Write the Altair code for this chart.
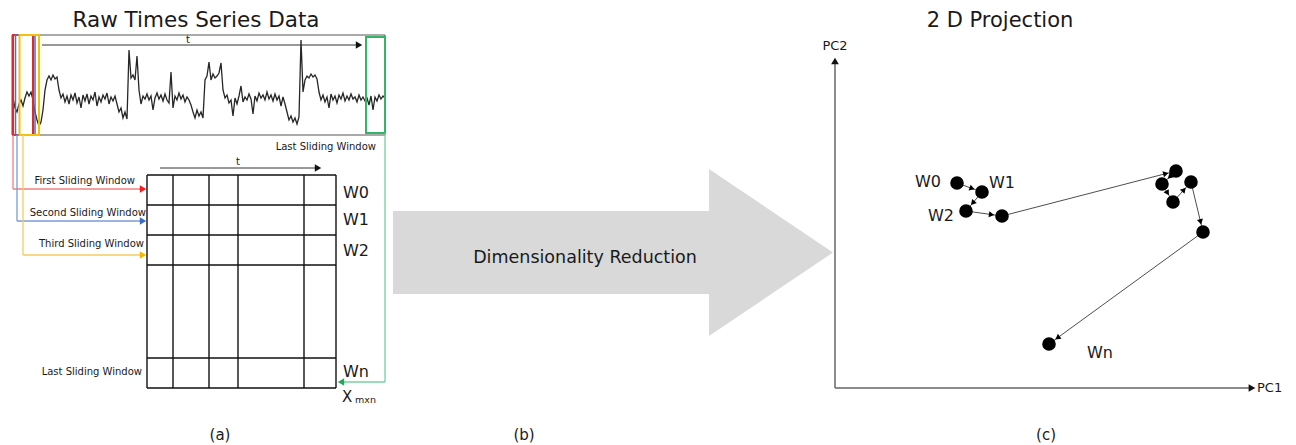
import math
import altair as alt
import pandas as pd

# ---------------- data ----------------
# raw time series (signal amplitude, 0 = bottom of panel, 100 = top), 187 samples
signal = [
    37, 27, 23, 31, 35, 29, 37, 43, 39, 43, 35, 23, 15, 9, 13, 25, 45, 55,
    59, 55, 60, 56, 58, 45, 37,
    41, 33, 39, 31, 40, 35, 42, 32, 38, 27, 40, 34, 41, 31, 39, 35, 43, 29, 38, 33, 40, 36, 42, 31, 38, 34, 39,
    31, 23, 27, 17, 23, 16, 85, 57, 60, 55, 79, 45,
    31, 39, 36, 41, 35, 39, 25, 37, 42, 36, 40, 34, 41, 35, 32, 63, 27, 39, 35, 42, 36, 40, 33, 38, 35, 30, 23, 17, 25, 19, 23, 17,
    55, 59, 73, 55, 61, 57, 59, 62, 72, 45, 37,
    40, 32, 35, 19, 37, 31, 39, 49, 33, 38, 35, 41, 36, 21, 39, 34, 42, 37, 40, 35, 43, 36, 40, 34, 41, 35, 39, 29, 38, 31, 23, 15, 19, 13, 17, 11, 18,
    95, 43, 55, 59, 57, 61, 58, 60, 56, 43, 35, 40, 33, 38, 27, 41, 35, 39, 32, 40, 36, 42, 34, 39, 35, 41, 36, 38, 33, 40, 35, 38, 34, 37, 30, 39, 25, 38, 34, 40, 36, 39, 37,
]

# 2-D projection of the sliding windows (PC1, PC2)
pc_names = ["W0", "W1", "W2", "W3", "W4", "W5", "W6", "W7", "W8", "Wn"]
pc1 = [12.1, 14.6, 13.0, 16.6, 34.0, 32.6, 33.7, 35.5, 36.7, 21.3]
pc2 = [20.5, 19.6, 17.7, 17.2, 21.7, 20.4, 18.6, 20.6, 15.6, 4.4]
pc_label_text = ["W0", "W1", "W2", "Wn"]
pc_label_pc1 = [9.2, 16.6, 10.5, 26.4]
pc_label_pc2 = [20.6, 20.5, 17.2, 3.5]

matrix_rows = ["W0", "W1", "W2", "Wn"]
window_labels = ["First Sliding Window", "Second Sliding Window", "Third  Sliding Window", "Last Sliding Window"]

# ---------------- layout (reference pixel space) ----------------
W, H = 1280, 437
OX, OY = 8, 8
FONT = "DejaVu Sans"


def X(f):
    return alt.X(f, type="quantitative", scale=alt.Scale(domain=[OX, OX + W], range=[0, W]), axis=None)


def Y(f):
    return alt.Y(f, type="quantitative", scale=alt.Scale(domain=[OY, OY + H], range=[0, H]), axis=None)


# time-series panel
TS_X0, TS_X1, TS_Y0, TS_Y1 = 12, 385, 35, 135
box = pd.DataFrame([{"x": TS_X0, "x2": TS_X1, "y": TS_Y0, "y2": TS_Y1}])
box_layer = alt.Chart(box).mark_rect(fill="transparent", stroke="#555555", strokeWidth=1).encode(
    x=X("x"), x2="x2", y=Y("y"), y2="y2")

ts = pd.DataFrame({"i": list(range(len(signal))), "v": signal})
ts_layer = alt.Chart(ts).mark_line(color="#262626", strokeWidth=1.3).encode(
    x=alt.X("i:Q", scale=alt.Scale(domain=[0, len(signal) - 1], range=[TS_X0 + 1 - OX, TS_X1 - OX]), axis=None),
    y=alt.Y("v:Q", scale=alt.Scale(domain=[0, 100], range=[TS_Y1 - OY, TS_Y0 - OY]), axis=None),
)

win = pd.DataFrame([
    {"x": 13, "x2": 33, "y": 35, "y2": 135, "c": "#dd2a2a", "w": 2},
    {"x": 15.5, "x2": 35, "y": 35, "y2": 135, "c": "#4a72c8", "w": 1.5},
    {"x": 19.5, "x2": 39, "y": 35, "y2": 135, "c": "#f5bf10", "w": 2},
    {"x": 366, "x2": 385, "y": 37, "y2": 133, "c": "#33b466", "w": 2},
])
win_layer = alt.Chart(win).mark_rect(fill="transparent").encode(
    x=X("x"), x2="x2", y=Y("y"), y2="y2",
    stroke=alt.Stroke("c:N", scale=None),
    strokeWidth=alt.StrokeWidth("w:Q", scale=None))

# matrix grid
grid_rows_y = [175, 205, 235, 265, 358, 388]
grid_cols_x = [147, 173, 209, 238, 304, 336]
segs = []
for gy in grid_rows_y:
    segs.append({"x": grid_cols_x[0], "y": gy, "x2": grid_cols_x[-1], "y2": gy, "c": "#111111", "w": 1.4})
for gx in grid_cols_x:
    segs.append({"x": gx, "y": grid_rows_y[0], "x2": gx, "y2": grid_rows_y[-1], "c": "#111111", "w": 1.4})

# connectors and arrows
segs += [
    {"x": 13, "y": 135, "x2": 13, "y2": 189, "c": "#ef8080", "w": 1.3},
    {"x": 13, "y": 189, "x2": 141, "y2": 189, "c": "#ef8080", "w": 1.3},
    {"x": 17, "y": 135, "x2": 17, "y2": 221, "c": "#7d9ad6", "w": 1.3},
    {"x": 17, "y": 221, "x2": 141, "y2": 221, "c": "#7d9ad6", "w": 1.3},
    {"x": 23, "y": 135, "x2": 23, "y2": 255, "c": "#f6cb60", "w": 1.3},
    {"x": 23, "y": 255, "x2": 141, "y2": 255, "c": "#f6cb60", "w": 1.3},
    {"x": 385, "y": 133, "x2": 385, "y2": 382, "c": "#78d0a0", "w": 1.3},
    {"x": 385, "y": 382, "x2": 344, "y2": 382, "c": "#78d0a0", "w": 1.3},
    {"x": 42, "y": 45, "x2": 357, "y2": 45, "c": "#333333", "w": 1},
    {"x": 160, "y": 168, "x2": 316, "y2": 168, "c": "#333333", "w": 1},
    {"x": 835, "y": 388, "x2": 835, "y2": 64, "c": "#666666", "w": 1.5},
    {"x": 835, "y": 388, "x2": 1249, "y2": 388, "c": "#666666", "w": 1.5},
]
seg_layer = alt.Chart(pd.DataFrame(segs)).mark_rule().encode(
    x=X("x"), y=Y("y"), x2="x2", y2="y2",
    color=alt.Color("c:N", scale=None),
    strokeWidth=alt.StrokeWidth("w:Q", scale=None))

heads = pd.DataFrame([
    {"x": 143, "y": 189, "a": 0, "c": "#ff1a1a", "s": 55},
    {"x": 143, "y": 221, "a": 0, "c": "#3a6bc9", "s": 55},
    {"x": 143, "y": 255, "a": 0, "c": "#f5b800", "s": 55},
    {"x": 341, "y": 382, "a": 180, "c": "#1faa55", "s": 55},
    {"x": 359, "y": 45, "a": 0, "c": "#111111", "s": 55},
    {"x": 318, "y": 168, "a": 0, "c": "#111111", "s": 55},
    {"x": 835, "y": 61, "a": 270, "c": "#111111", "s": 60},
    {"x": 1252, "y": 388, "a": 0, "c": "#111111", "s": 60},
])
head_layer = alt.Chart(heads).mark_point(shape="triangle-right", filled=True, opacity=1).encode(
    x=X("x"), y=Y("y"),
    angle=alt.Angle("a:Q", scale=None),
    color=alt.Color("c:N", scale=None),
    size=alt.Size("s:Q", scale=None))

# big grey arrow (b)
shaft = pd.DataFrame([{"x": 393, "x2": 710, "y": 211, "y2": 294}])
shaft_layer = alt.Chart(shaft).mark_rect(color="#d9d9d9").encode(x=X("x"), x2="x2", y=Y("y"), y2="y2")
tip = pd.DataFrame([{"x": 709, "y": 169, "y2": 336}, {"x": 833, "y": 252.5, "y2": 252.5}])
tip_layer = alt.Chart(tip).mark_area(color="#d9d9d9", opacity=1).encode(x=X("x"), y=Y("y"), y2="y2")

# texts
txt_c = pd.DataFrame([
    {"x": 196, "y": 21, "t": "Raw Times Series Data", "s": 21.5},
    {"x": 1000, "y": 21, "t": "2 D Projection", "s": 21},
    {"x": 188, "y": 40, "t": "t", "s": 10},
    {"x": 238, "y": 162, "t": "t", "s": 10},
    {"x": 585, "y": 258, "t": "Dimensionality Reduction", "s": 17.5},
    {"x": 835, "y": 46, "t": "PC2", "s": 13},
    {"x": 220, "y": 435, "t": "(a)", "s": 15},
    {"x": 524, "y": 435, "t": "(b)", "s": 15},
    {"x": 1046, "y": 435, "t": "(c)", "s": 15},
])
txt_l = pd.DataFrame(
    [{"x": 343, "y": yy, "t": tt, "s": 16} for tt, yy in zip(matrix_rows, [193, 220, 251, 372])] + [
        {"x": 342, "y": 397, "t": "X", "s": 15},
        {"x": 355, "y": 400, "t": "mxn", "s": 9.5},
        {"x": 1257, "y": 388, "t": "PC1", "s": 13},
    ])
txt_r = pd.DataFrame(
    [{"x": 376, "y": 147, "t": "Last  Sliding Window", "s": 10}] +
    [{"x": xx, "y": yy, "t": tt, "s": 10}
     for tt, xx, yy in zip(window_labels, [135, 146, 144, 142], [181, 213, 244, 372])])


def text_layer(df, align):
    return alt.Chart(df).mark_text(align=align, baseline="middle", font=FONT, color="#1a1a1a").encode(
        x=X("x"), y=Y("y"), text="t:N", size=alt.Size("s:Q", scale=None))


# ---------------- projection (c) ----------------
PC_X = alt.Scale(domain=[0, 40], range=[836 - OX, 1236 - OX])
PC_Y = alt.Scale(domain=[0, 30], range=[388 - OY, 88 - OY])
PX_PER_UNIT = 10.0
R = 7.5

pts = pd.DataFrame({"name": pc_names, "pc1": pc1, "pc2": pc2})
links, arrows = [], []
for i in range(1, len(pc1)):
    dx = (pc1[i] - pc1[i - 1]) * PX_PER_UNIT
    dy = -(pc2[i] - pc2[i - 1]) * PX_PER_UNIT
    L = math.hypot(dx, dy)
    ux, uy = dx / L, dy / L
    links.append({"a1": pc1[i - 1], "b1": pc2[i - 1], "a2": pc1[i], "b2": pc2[i]})
    off = (R + 3) / PX_PER_UNIT
    arrows.append({"a1": pc1[i] - off * ux, "b1": pc2[i] + off * uy,
                   "ang": math.degrees(math.atan2(dy, dx)) % 360})

link_layer = alt.Chart(pd.DataFrame(links)).mark_rule(color="#3a3a3a", strokeWidth=0.9).encode(
    x=alt.X("a1:Q", scale=PC_X, axis=None), y=alt.Y("b1:Q", scale=PC_Y, axis=None), x2="a2", y2="b2")
dot_layer = alt.Chart(pts).mark_circle(color="#000000", opacity=1, size=185).encode(
    x=alt.X("pc1:Q", scale=PC_X, axis=None), y=alt.Y("pc2:Q", scale=PC_Y, axis=None))
arrow_layer = alt.Chart(pd.DataFrame(arrows)).mark_point(
    shape="triangle-right", filled=True, color="#000000", opacity=1, size=38).encode(
    x=alt.X("a1:Q", scale=PC_X, axis=None), y=alt.Y("b1:Q", scale=PC_Y, axis=None),
    angle=alt.Angle("ang:Q", scale=None))
pc_lab = pd.DataFrame({"t": pc_label_text, "a": pc_label_pc1, "b": pc_label_pc2})
pc_lab_layer = alt.Chart(pc_lab).mark_text(font=FONT, fontSize=16, color="#1a1a1a", baseline="middle").encode(
    x=alt.X("a:Q", scale=PC_X, axis=None), y=alt.Y("b:Q", scale=PC_Y, axis=None), text="t:N")

chart = alt.layer(
    shaft_layer, tip_layer,
    box_layer, ts_layer, win_layer, seg_layer, head_layer,
    text_layer(txt_c, "center"), text_layer(txt_l, "left"), text_layer(txt_r, "right"),
    link_layer, dot_layer, arrow_layer, pc_lab_layer,
).resolve_scale(x="independent", y="independent").properties(
    width=W, height=H, padding=0, background="white"
).configure_view(stroke=None)

chart.save("out.html", embed_options={"renderer": "svg", "actions": False})
